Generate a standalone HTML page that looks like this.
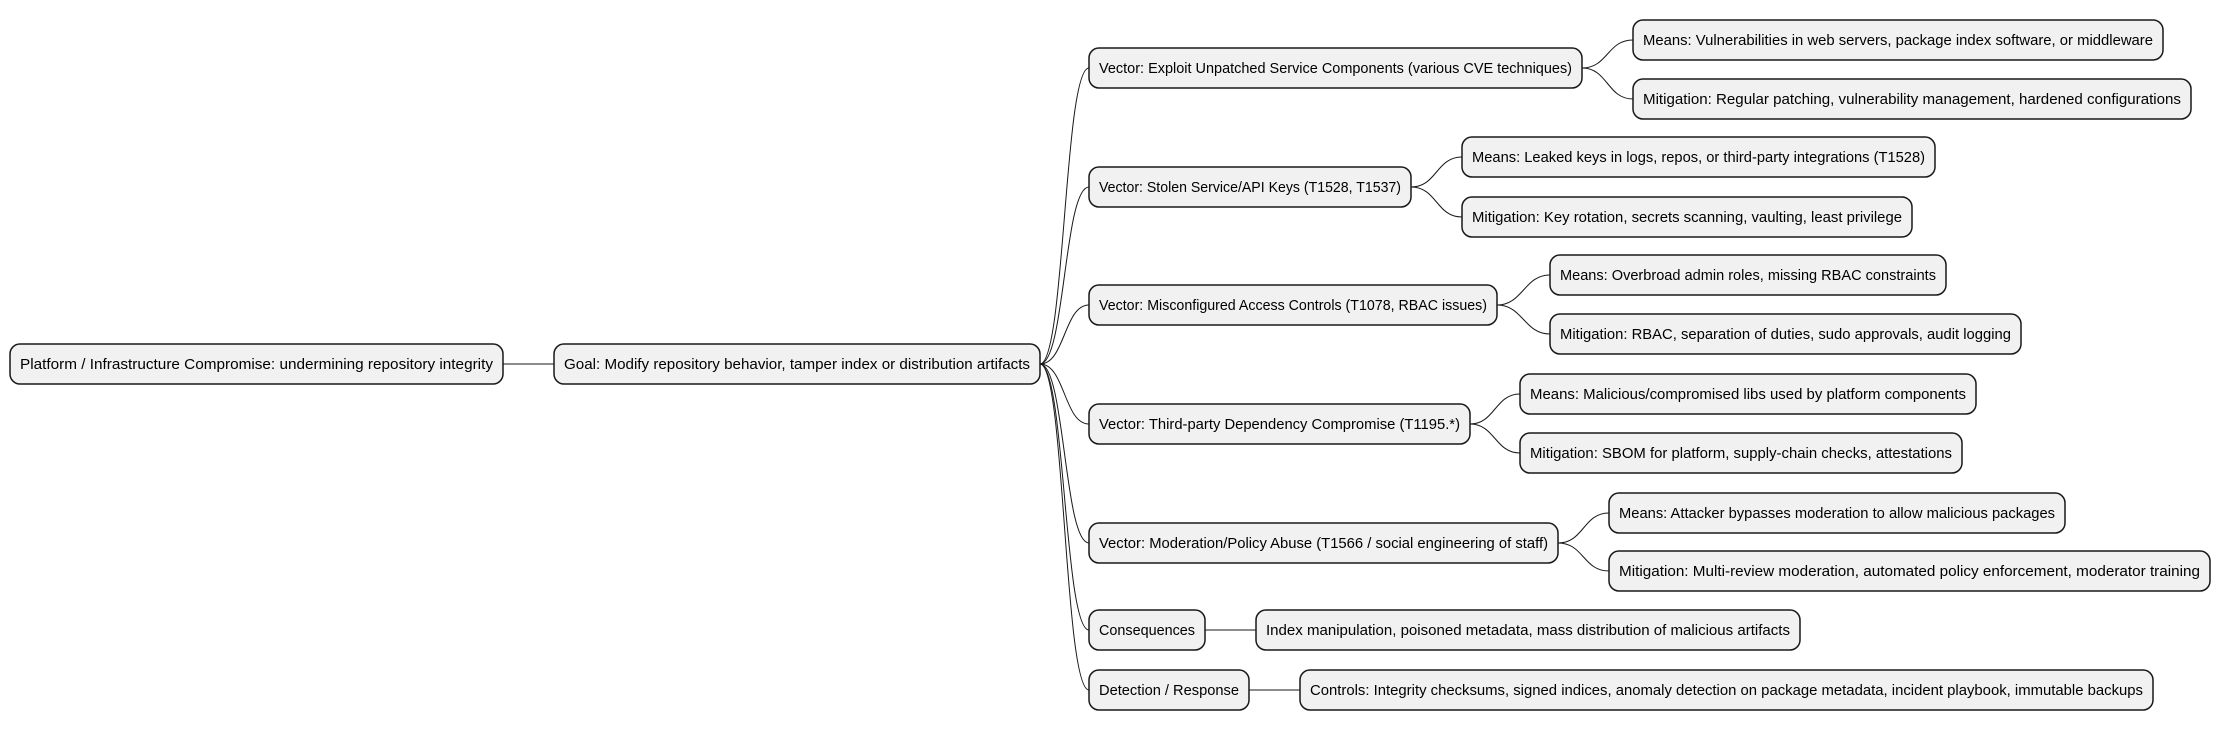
<!DOCTYPE html>
<html><head><meta charset="utf-8"><style>
html,body{margin:0;padding:0;background:#fff;}
svg{display:block;}
text{font-family:"Liberation Sans",sans-serif;font-size:15px;fill:#000;}
rect{fill:#f1f1f1;stroke:#181818;stroke-width:1.5;}
path{fill:none;stroke:#181818;stroke-width:1;}
</style></head><body>
<svg width="2221" height="729" viewBox="0 0 2221 729" xmlns="http://www.w3.org/2000/svg">
<!-- connectors -->
<path d="M503 364 L554 364"/>
<path d="M1040 364 C1065 364,1064 68,1089 68"/>
<path d="M1040 364 C1065 364,1064 187,1089 187"/>
<path d="M1040 364 C1065 364,1064 305,1089 305"/>
<path d="M1040 364 C1065 364,1064 424,1089 424"/>
<path d="M1040 364 C1065 364,1064 543,1089 543"/>
<path d="M1040 364 C1065 364,1064 630,1089 630"/>
<path d="M1040 364 C1065 364,1064 690,1089 690"/>
<path d="M1582 68 C1608 68,1607 40,1633 40"/>
<path d="M1582 68 C1608 68,1607 99,1633 99"/>
<path d="M1411 187 C1437 187,1436 157,1462 157"/>
<path d="M1411 187 C1437 187,1436 217,1462 217"/>
<path d="M1497 305 C1523 305,1524 275,1550 275"/>
<path d="M1497 305 C1523 305,1524 334,1550 334"/>
<path d="M1470 424 C1495 424,1495 394,1520 394"/>
<path d="M1470 424 C1495 424,1495 453,1520 453"/>
<path d="M1558 543 C1584 543,1583 513,1609 513"/>
<path d="M1558 543 C1584 543,1583 571,1609 571"/>
<path d="M1205 630 L1256 630"/>
<path d="M1249 690 L1300 690"/>
<!-- boxes -->
<g>
<rect x="10" y="344" width="493" height="40" rx="10"/><text x="20" y="369" textLength="473" lengthAdjust="spacingAndGlyphs">Platform / Infrastructure Compromise: undermining repository integrity</text>
<rect x="554" y="344" width="486" height="40" rx="10"/><text x="564" y="369" textLength="466" lengthAdjust="spacingAndGlyphs">Goal: Modify repository behavior, tamper index or distribution artifacts</text>

<rect x="1089" y="48" width="493" height="40" rx="10"/><text x="1099" y="73" textLength="473" lengthAdjust="spacingAndGlyphs">Vector: Exploit Unpatched Service Components (various CVE techniques)</text>
<rect x="1633" y="20" width="530" height="40" rx="10"/><text x="1643" y="45" textLength="510" lengthAdjust="spacingAndGlyphs">Means: Vulnerabilities in web servers, package index software, or middleware</text>
<rect x="1633" y="79" width="558" height="40" rx="10"/><text x="1643" y="104" textLength="538" lengthAdjust="spacingAndGlyphs">Mitigation: Regular patching, vulnerability management, hardened configurations</text>

<rect x="1089" y="167" width="322" height="40" rx="10"/><text x="1099" y="192" textLength="302" lengthAdjust="spacingAndGlyphs">Vector: Stolen Service/API Keys (T1528, T1537)</text>
<rect x="1462" y="137" width="473" height="40" rx="10"/><text x="1472" y="162" textLength="453" lengthAdjust="spacingAndGlyphs">Means: Leaked keys in logs, repos, or third-party integrations (T1528)</text>
<rect x="1462" y="197" width="450" height="40" rx="10"/><text x="1472" y="222" textLength="430" lengthAdjust="spacingAndGlyphs">Mitigation: Key rotation, secrets scanning, vaulting, least privilege</text>

<rect x="1089" y="285" width="408" height="40" rx="10"/><text x="1099" y="310" textLength="388" lengthAdjust="spacingAndGlyphs">Vector: Misconfigured Access Controls (T1078, RBAC issues)</text>
<rect x="1550" y="255" width="396" height="40" rx="10"/><text x="1560" y="280" textLength="376" lengthAdjust="spacingAndGlyphs">Means: Overbroad admin roles, missing RBAC constraints</text>
<rect x="1550" y="314" width="471" height="40" rx="10"/><text x="1560" y="339" textLength="451" lengthAdjust="spacingAndGlyphs">Mitigation: RBAC, separation of duties, sudo approvals, audit logging</text>

<rect x="1089" y="404" width="381" height="40" rx="10"/><text x="1099" y="429" textLength="361" lengthAdjust="spacingAndGlyphs">Vector: Third-party Dependency Compromise (T1195.*)</text>
<rect x="1520" y="374" width="456" height="40" rx="10"/><text x="1530" y="399" textLength="436" lengthAdjust="spacingAndGlyphs">Means: Malicious/compromised libs used by platform components</text>
<rect x="1520" y="433" width="442" height="40" rx="10"/><text x="1530" y="458" textLength="422" lengthAdjust="spacingAndGlyphs">Mitigation: SBOM for platform, supply-chain checks, attestations</text>

<rect x="1089" y="523" width="469" height="40" rx="10"/><text x="1099" y="548" textLength="449" lengthAdjust="spacingAndGlyphs">Vector: Moderation/Policy Abuse (T1566 / social engineering of staff)</text>
<rect x="1609" y="493" width="456" height="40" rx="10"/><text x="1619" y="518" textLength="436" lengthAdjust="spacingAndGlyphs">Means: Attacker bypasses moderation to allow malicious packages</text>
<rect x="1609" y="551" width="601" height="40" rx="10"/><text x="1619" y="576" textLength="581" lengthAdjust="spacingAndGlyphs">Mitigation: Multi-review moderation, automated policy enforcement, moderator training</text>

<rect x="1089" y="610" width="116" height="40" rx="10"/><text x="1099" y="635" textLength="96" lengthAdjust="spacingAndGlyphs">Consequences</text>
<rect x="1256" y="610" width="544" height="40" rx="10"/><text x="1266" y="635" textLength="524" lengthAdjust="spacingAndGlyphs">Index manipulation, poisoned metadata, mass distribution of malicious artifacts</text>

<rect x="1089" y="670" width="160" height="40" rx="10"/><text x="1099" y="695" textLength="140" lengthAdjust="spacingAndGlyphs">Detection / Response</text>
<rect x="1300" y="670" width="853" height="40" rx="10"/><text x="1310" y="695" textLength="833" lengthAdjust="spacingAndGlyphs">Controls: Integrity checksums, signed indices, anomaly detection on package metadata, incident playbook, immutable backups</text>
</g>
</svg>
</body></html>
